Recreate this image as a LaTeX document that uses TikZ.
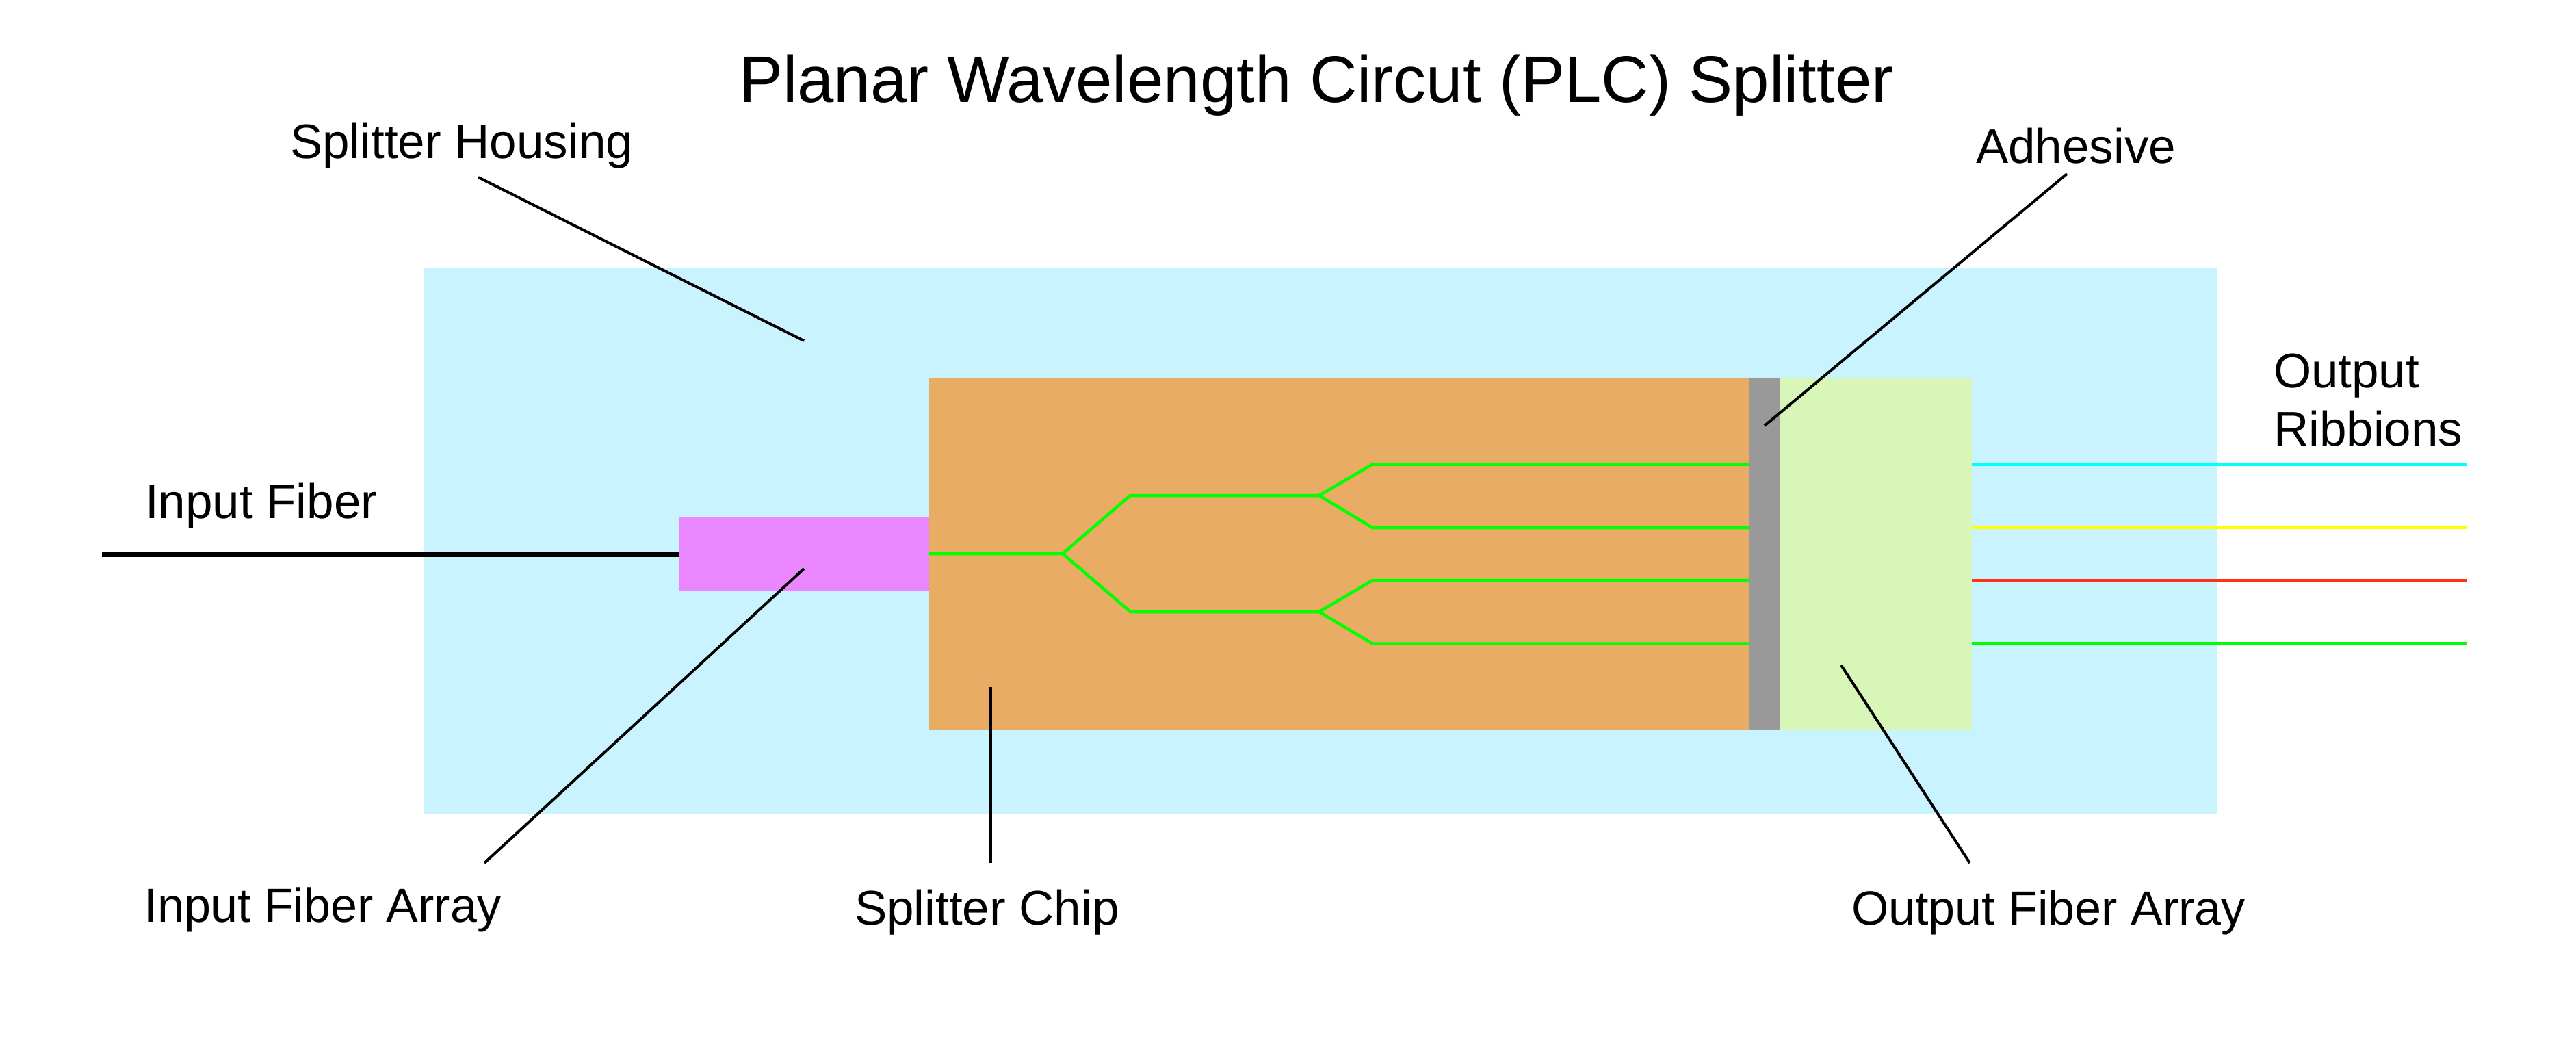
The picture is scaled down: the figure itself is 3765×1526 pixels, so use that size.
\documentclass[tikz,border=0pt]{standalone}
\usepackage{fontspec}
\setmainfont{Liberation Sans}
\definecolor{housing}{RGB}{200,243,255}
\definecolor{chip}{RGB}{233,172,100}
\definecolor{adhesive}{RGB}{153,153,153}
\definecolor{outarr}{RGB}{215,246,183}
\definecolor{inarr}{RGB}{234,134,255}
\definecolor{guide}{RGB}{0,255,0}
\definecolor{ribred}{RGB}{255,51,17}
\definecolor{ribcyan}{RGB}{0,255,255}
\definecolor{ribyellow}{RGB}{255,255,0}
\tikzset{
  x=1pt,y=-1pt,
  block/.style={inner sep=0pt,outer sep=0pt,draw=none,anchor=north west},
  label/.style={inner sep=0pt,outer sep=0pt,anchor=base west,font=\fontsize{71}{85}\selectfont},
  arraylabel/.style={label,font=\fontsize{70}{84}\selectfont},
  titletext/.style={inner sep=0pt,outer sep=0pt,anchor=base west,font=\fontsize{96}{115}\selectfont},
  leader/.style={draw=black,line width=4pt},
  wave/.style={draw=guide,line width=4.5pt,line join=miter},
  fiber/.style={line width=4.5pt},
}
\begin{document}
\begin{tikzpicture}
\useasboundingbox (0,0) rectangle (3765,1526);
\fill[white] (0,0) rectangle (3765,1526);
% bodies
\node[block,fill=housing,minimum width=2621pt,minimum height=798pt] (housing) at (620,391) {};
\node[block,fill=outarr,minimum width=325pt,minimum height=514pt] (outarray) at (2557,552.5) {};
\node[block,fill=chip,minimum width=1199pt,minimum height=514pt] (chipbox) at (1358,552.5) {};
\node[block,fill=inarr,minimum width=366pt,minimum height=107pt] (inarray) at (992,756) {};
% waveguides
\coordinate (w0) at (1358,809);
\coordinate (w1) at (1553,809);
\coordinate (u1) at (1652,724);
\coordinate (u2) at (1928,724);
\coordinate (l1) at (1652,894);
\coordinate (l2) at (1928,894);
\foreach \n/\y in {a/678.5,b/771,c/848,d/940.5}{
  \coordinate (\n1) at (2006,\y);
  \coordinate (\n2) at (2557,\y);
  \coordinate (\n3) at (2882,\y);
  \coordinate (\n4) at (3606,\y);
}
\draw[wave] (w0) -- (w1) -- (u1) -- (u2) -- (a1) -- (a2);
\draw[wave] (u2) -- (b1) -- (b2);
\draw[wave] (w1) -- (l1) -- (l2) -- (c1) -- (c2);
\draw[wave] (l2) -- (d1) -- (d2);
% adhesive
\node[block,fill=adhesive,minimum width=45pt,minimum height=514pt] (adh) at (2557,552.5) {};
% ribbons
\draw[fiber,draw=ribcyan] (a3) -- (a4);
\draw[fiber,draw=ribyellow] (b3) -- (b4);
\draw[fiber,draw=ribred] (c3) -- (c4);
\draw[fiber,draw=guide] (d3) -- (d4);
% input fiber
\coordinate (if) at (149,809.5);
\coordinate (ifend) at (992,809.5);
\draw[line width=8pt,black] (if) -- (ifend);
% labels
\node[titletext] (title) at (1080,149) {Planar Wavelength Circut (PLC) Splitter};
\node[label] (lhousing) at (424,231) {Splitter Housing};
\node[label] (ladh) at (2888,238) {Adhesive};
\node[label] (lout) at (3323,566) {Output};
\node[label] (lrib) at (3323,651) {Ribbions};
\node[label] (lin) at (212,757) {Input Fiber};
\node[arraylabel] (linarr) at (211,1347) {Input Fiber Array};
\node[label] (lchip) at (1249,1351) {Splitter Chip};
\node[arraylabel] (loutarr) at (2706,1351) {Output Fiber Array};
% leaders
\coordinate (p1a) at (699,259);  \coordinate (p1b) at (1175,498);
\coordinate (p2a) at (708,1261); \coordinate (p2b) at (1175,831);
\coordinate (p3a) at (1448,1261);\coordinate (p3b) at (1448,1004);
\coordinate (p4a) at (3021,254); \coordinate (p4b) at (2579,622);
\coordinate (p5a) at (2879,1261);\coordinate (p5b) at (2691,972);
\draw[leader] (p1a) -- (p1b);
\draw[leader] (p2a) -- (p2b);
\draw[leader] (p3a) -- (p3b);
\draw[leader] (p4a) -- (p4b);
\draw[leader] (p5a) -- (p5b);
\end{tikzpicture}
\end{document}
